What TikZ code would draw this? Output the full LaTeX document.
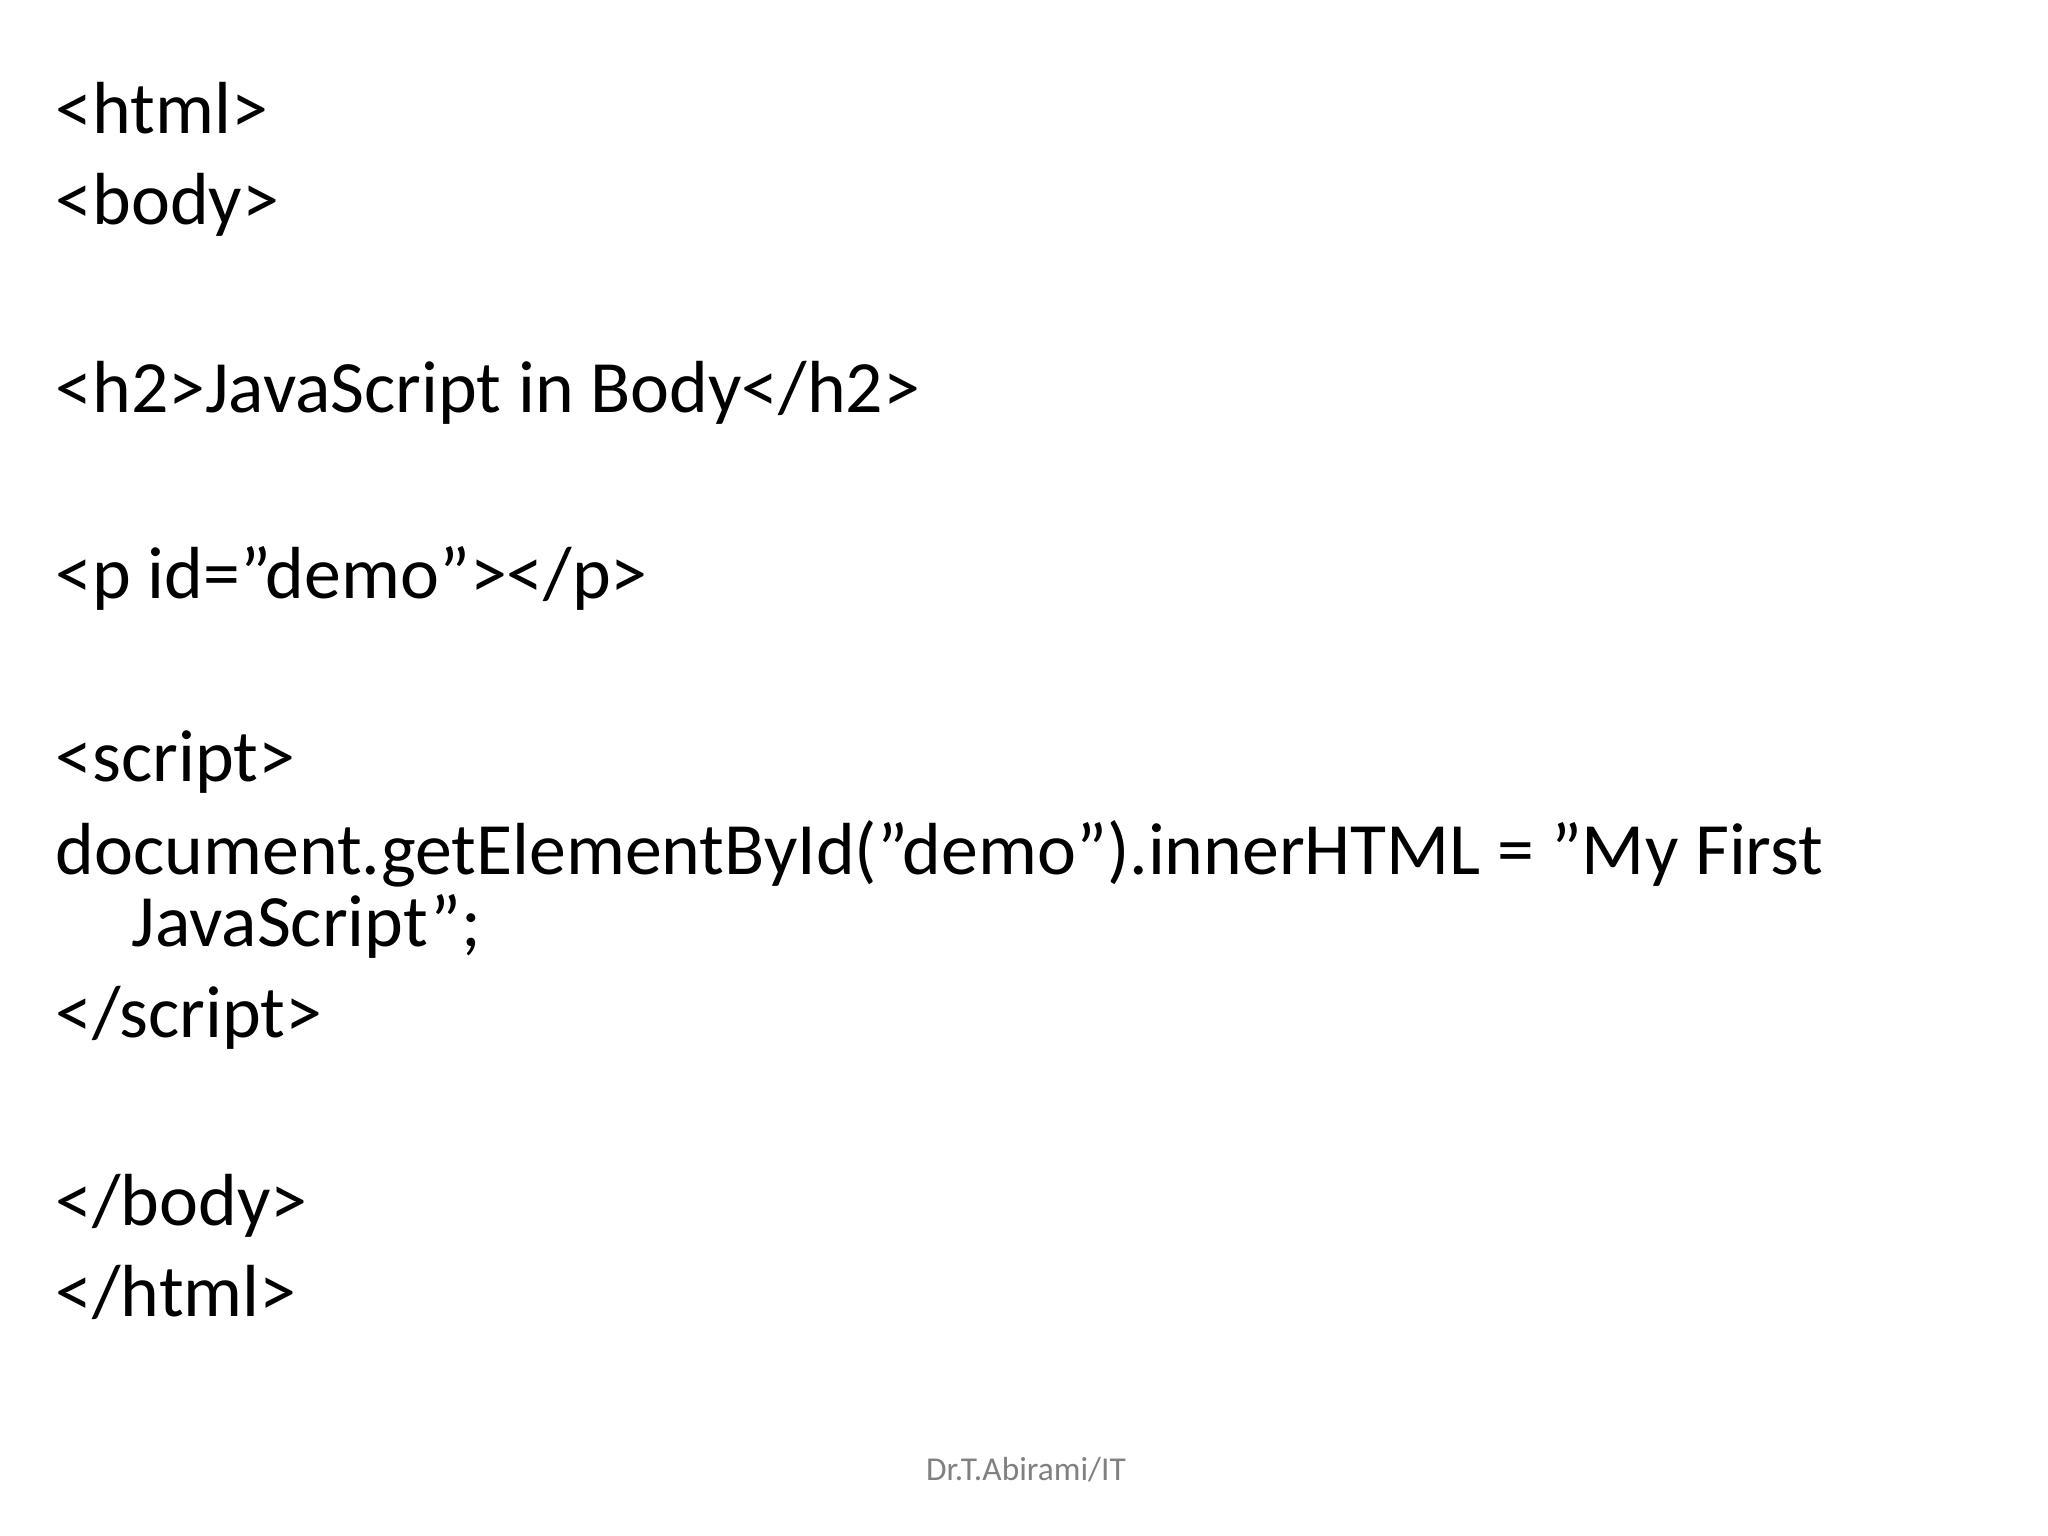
\documentclass[tikz,border=0pt]{standalone}
\usepackage{fontspec}
\setmainfont{Carlito}
\begin{document}
\begin{tikzpicture}[x=1cm,y=1cm,code/.style={anchor=base west,inner sep=0pt,font=\fontsize{21}{25}\selectfont}]
\useasboundingbox (0,0) rectangle (20.48,-15.36);
\node[code] (l1) at (0.55,-1.336) {<html>};
\node[code] (l2) at (0.55,-2.25) {<body>};
\node[code] (l3) at (0.55,-4.127) {<h2>JavaScript in Body</h2>};
\node[code] (l4) at (0.55,-5.987) {<p id="demo"></p>};
\node[code] (l5) at (0.55,-7.82) {<script>};
\node[code] (l6) at (0.55,-8.74) {document.getElementById("demo").innerHTML = "My First};
\node[code] (l7) at (1.31,-9.46) {JavaScript";};
\node[code] (l8) at (0.55,-10.375) {</script>};
\node[code] (l9) at (0.55,-12.25) {</body>};
\node[code] (l10) at (0.55,-13.165) {</html>};
\node[anchor=base,inner sep=0pt,text=gray,font=\fontsize{9.5}{11}\selectfont] (ft) at (10.26,-14.8) {Dr.T.Abirami/IT};
\end{tikzpicture}
\end{document}
